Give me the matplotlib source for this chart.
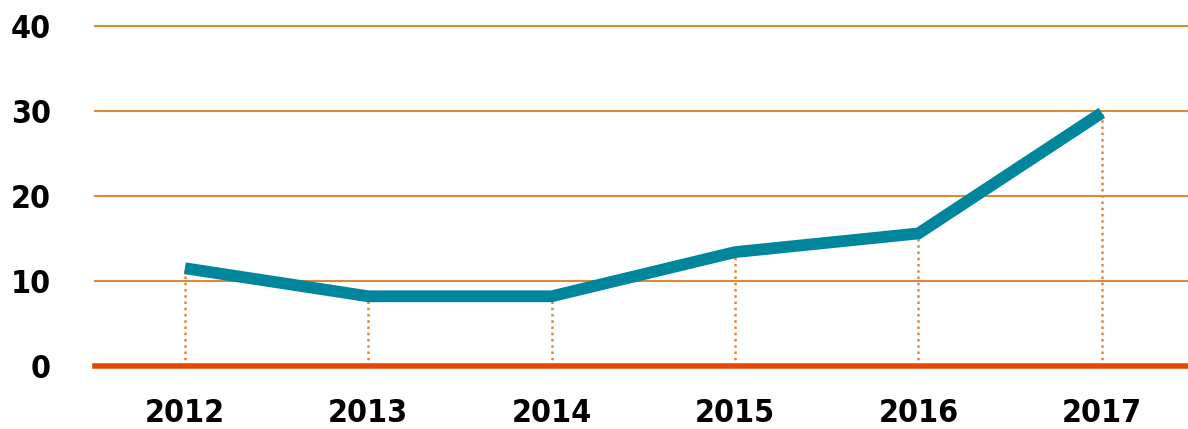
import numpy as np
import matplotlib.pyplot as plt

years = ['2012', '2013', '2014', '2015', '2016', '2017']
values = [11.5, 8.2, 8.2, 13.4, 15.6, 29.8]
yticks = [0, 10, 20, 30, 40]

teal = '#00869c'
grid_orange = '#e0883a'
zero_red = '#e34800'

plt.rcParams['font.family'] = ['DejaVu Sans']
plt.rcParams['font.stretch'] = 'condensed'

fig = plt.figure(figsize=(11.88, 4.29), dpi=100)
ax = fig.add_axes([0.08, 0.147, 0.92, 0.792])

x = np.arange(len(years))

for yt in yticks[1:]:
    ax.axhline(yt, color=grid_orange, lw=1.5, zorder=1, clip_on=False)
ax.axhline(0, color=zero_red, lw=4, zorder=2, clip_on=False)

ax.vlines(x, 0, values, colors=grid_orange, linestyles=(0, (1, 1.5)), lw=1.8, zorder=1)
ax.plot(x, values, color=teal, lw=8.5, solid_joinstyle='miter', solid_capstyle='butt',
        zorder=3, clip_on=False)

ax.set_xlim(-0.49, 5.47)
ax.set_ylim(0, 40)
ax.set_xticks(x)
ax.set_xticklabels(years)
ax.set_yticks(yticks)
for s in ax.spines.values():
    s.set_visible(False)
ax.tick_params(axis='both', length=0, labelsize=23)
ax.tick_params(axis='x', pad=23)
ax.tick_params(axis='y', pad=32)
for lab in ax.get_xticklabels() + ax.get_yticklabels():
    lab.set_fontweight('bold')
    lab.set_fontstretch('condensed')

fig.savefig('out.png', dpi=100)
